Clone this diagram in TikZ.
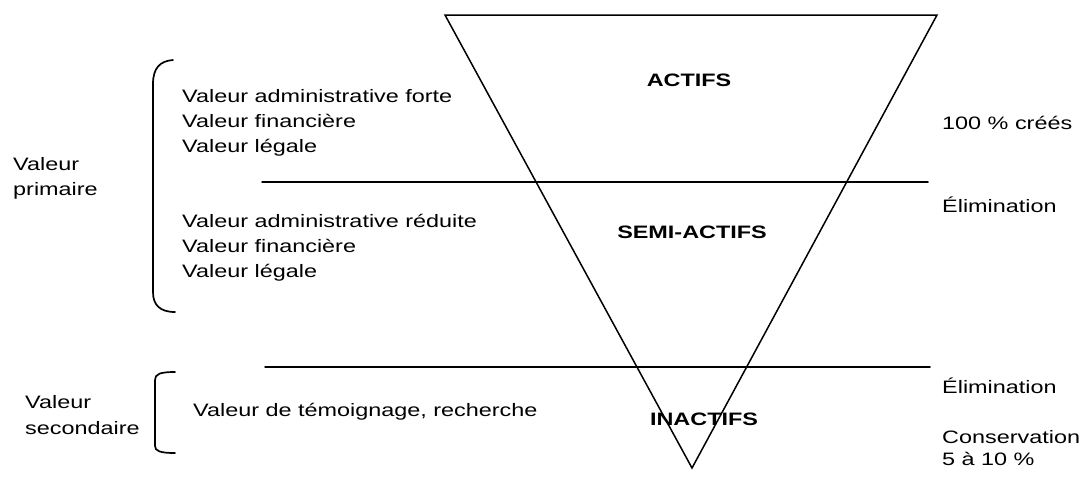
\documentclass[tikz,border=0pt]{standalone}
\usepackage{fontspec}
\setmainfont{Liberation Sans}[FakeStretch=1.3]
\usepackage{tikz}

\begin{document}
\begin{tikzpicture}[x=1pt, y=-1pt, line cap=round,
    font=\fontsize{18}{25}\selectfont,
    txt/.style={anchor=base west, inner sep=0pt},
    zone/.style={font=\fontsize{18}{25}\selectfont\bfseries, inner sep=0pt},
    rule/.style={line width=1.5pt},
    brace/.style={line width=1.7pt}]
  \useasboundingbox (0,0) rectangle (1086,477);
  % ===== funnel and the two cuts =====
  \coordinate (tl) at (445,15);
  \coordinate (tr) at (937,15);
  \coordinate (apex) at (692,468);
  \draw[rule, line join=miter] (tl) -- (tr) -- (apex) -- cycle;
  \coordinate (cut1a) at (262,182);
  \coordinate (cut1b) at (928,182);
  \coordinate (cut2a) at (265,367);
  \coordinate (cut2b) at (930,367);
  \draw[rule] (cut1a) -- (cut1b);
  \draw[rule] (cut2a) -- (cut2b);
  % ===== stages inside the funnel =====
  \node[zone] (actifs) at (689,80) {ACTIFS};
  \node[zone] (semi) at (692,232) {SEMI-ACTIFS};
  \node[zone] (inactifs) at (704,419) {INACTIFS};
  % ===== values, left of the funnel =====
  \node[txt] (adm1) at (182,102.5) {Valeur administrative forte};
  \node[txt] (fin1) at (182,127.5) {Valeur financière};
  \node[txt] (leg1) at (182,152.5) {Valeur légale};
  \node[txt] (adm2) at (182,227.5) {Valeur administrative réduite};
  \node[txt] (fin2) at (182,252.5) {Valeur financière};
  \node[txt] (leg2) at (182,277.5) {Valeur légale};
  \node[txt] (temoin) at (193,416.5) {Valeur de témoignage, recherche};
  % ===== braces and their labels =====
  \draw[brace] (173,60) .. controls (160,61) and (153,68) .. (153,84)
    -- (153,292) .. controls (153,305) and (160,312) .. (175,312);
  \draw[brace] (175,372) .. controls (160,372) and (155,374) .. (155,380)
    -- (155,446) .. controls (155,451) and (160,453) .. (175,453);
  \node[txt] (prim1) at (13,170.5) {Valeur};
  \node[txt] (prim2) at (13,195.5) {primaire};
  \node[txt] (sec1) at (25,408.5) {Valeur};
  \node[txt] (sec2) at (25,434.5) {secondaire};
  % ===== outcomes, right of the funnel =====
  \node[txt] (crees) at (942,129.5) {100 \% créés};
  \node[txt] (elim1) at (942,212) {Élimination};
  \node[txt] (elim2) at (942,393) {Élimination};
  \node[txt] (cons) at (942,443.5) {Conservation};
  \node[txt] (pct) at (942,465.5) {5 à 10 \%};
\end{tikzpicture}
\end{document}
